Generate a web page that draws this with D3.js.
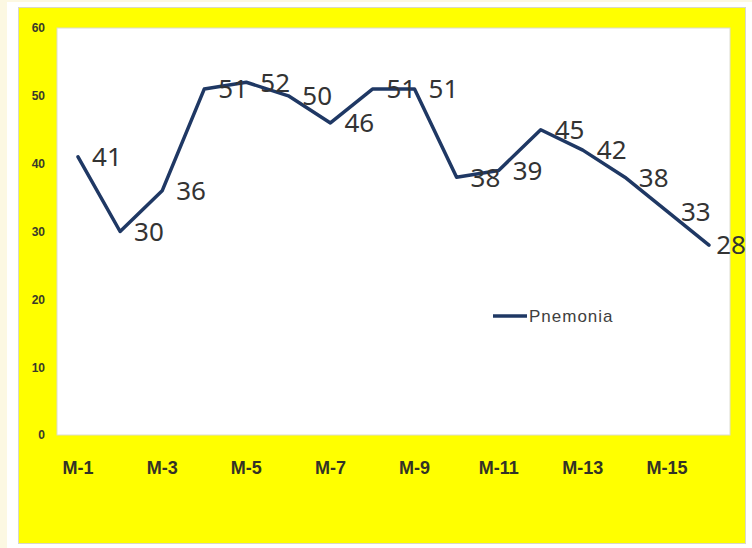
<!DOCTYPE html>
<html>
<head>
<meta charset="utf-8">
<script src="https://cdn.jsdelivr.net/npm/d3@7"></script>
<style>
  html, body { margin: 0; padding: 0; background: #fcf8e2; }
  svg { display: block; }
</style>
</head>
<body>
<div id="chart"></div>
<script>
// Chart data
const months = ['M-1', 'M-2', 'M-3', 'M-4', 'M-5', 'M-6', 'M-7', 'M-8',
                'M-9', 'M-10', 'M-11', 'M-12', 'M-13', 'M-14', 'M-15', 'M-16'];
const pnemonia = [41, 30, 36, 51, 52, 50, 46, 51, 51, 38, 39, 45, 42, 38, 33, 28];
const yTicks = [0, 10, 20, 30, 40, 50, 60];
const xTickLabels = ['M-1', 'M-3', 'M-5', 'M-7', 'M-9', 'M-11', 'M-13', 'M-15'];
const seriesName = 'Pnemonia';

const width = 752,
      height = 548;

// plot area inside the yellow chart area
const plot = {left: 57, top: 28, right: 730, bottom: 435};

const svg = d3.select('#chart').append('svg')
  .attr('width', width)
  .attr('height', height);

// white frame and yellow chart area
svg.append('rect')
  .attr('x', 7).attr('y', 2)
  .attr('width', width - 7).attr('height', height - 2)
  .attr('fill', '#ffffff');

svg.append('rect')
  .attr('x', 18.5).attr('y', 7.5)
  .attr('width', 727).attr('height', 536)
  .attr('fill', '#ffff00')
  .attr('stroke', '#d8d8c8');

svg.append('rect')
  .attr('x', plot.left).attr('y', plot.top)
  .attr('width', plot.right - plot.left).attr('height', plot.bottom - plot.top)
  .attr('fill', '#ffffff')
  .attr('stroke', '#dcdcd0');

const x = d3.scaleBand()
  .domain(months)
  .range([plot.left, plot.right]);

const y = d3.scaleLinear()
  .domain([0, 60])
  .range([plot.bottom, plot.top]);

const cx = m => x(m) + x.bandwidth() / 2;

// y axis
const yAxis = svg.append('g')
  .attr('transform', 'translate(' + 45 + ',0)')
  .call(d3.axisLeft(y).tickValues(yTicks).tickSize(0).tickPadding(0));
yAxis.select('.domain').remove();
yAxis.selectAll('text')
  .attr('font-family', 'Liberation Sans, Arial, sans-serif')
  .attr('font-size', 12)
  .attr('font-weight', 'bold')
  .attr('fill', '#3a3a2a');

// x axis
const xAxis = svg.append('g')
  .attr('transform', 'translate(0,' + plot.bottom + ')')
  .call(d3.axisBottom(x).tickValues(xTickLabels).tickSize(0));
xAxis.select('.domain').remove();
xAxis.selectAll('text')
  .attr('y', 33)
  .attr('dy', '0.35em')
  .attr('font-family', 'Liberation Sans, Arial, sans-serif')
  .attr('font-size', 18)
  .attr('font-weight', 'bold')
  .attr('fill', '#333326');

// the line
const line = d3.line()
  .x((d, i) => cx(months[i]))
  .y(d => y(d));

svg.append('path')
  .datum(pnemonia)
  .attr('d', line)
  .attr('fill', 'none')
  .attr('stroke', '#1f3864')
  .attr('stroke-width', 3.5)
  .attr('stroke-linejoin', 'round')
  .attr('stroke-linecap', 'round');

// data labels to the right of each point, kept inside the chart area
const labels = svg.append('g')
  .selectAll('text')
  .data(pnemonia)
  .join('text')
  .attr('x', (d, i) => cx(months[i]) + 14)
  .attr('y', d => y(d))
  .attr('dy', '0.36em')
  .attr('font-family', 'Noto Sans, DejaVu Sans, sans-serif')
  .attr('font-size', 26)
  .attr('fill', '#333333')
  .text(d => d);

labels.each(function() {
  const el = d3.select(this);
  const w = this.getComputedTextLength();
  const x0 = +el.attr('x');
  if (x0 + w > 746) el.attr('x', 746 - w);
});

// legend
const legend = svg.append('g');
legend.append('line')
  .attr('x1', 493).attr('x2', 527)
  .attr('y1', 316).attr('y2', 316)
  .attr('stroke', '#1f3864')
  .attr('stroke-width', 3.5);
legend.append('text')
  .attr('x', 529)
  .attr('y', 316)
  .attr('dy', '0.35em')
  .attr('font-family', 'Liberation Sans, Arial, sans-serif')
  .attr('font-size', 17)
  .attr('letter-spacing', 1)
  .attr('fill', '#404040')
  .text(seriesName);
</script>
</body>
</html>
